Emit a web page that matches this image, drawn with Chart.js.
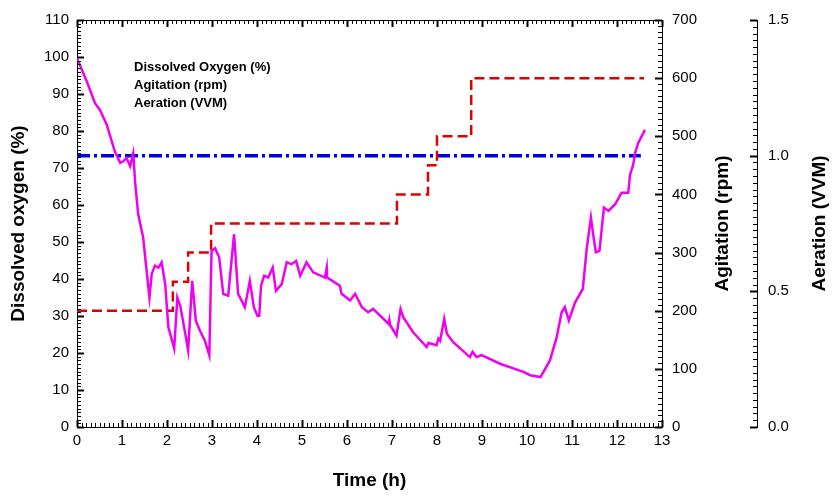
<!DOCTYPE html>
<html>
<head>
<meta charset="utf-8">
<script src="https://cdn.jsdelivr.net/npm/chart.js@4"></script>
<style>
  body { margin: 0; background: #fff; }
  #wrap { width: 833px; height: 503px; }
</style>
</head>
<body>
<div id="wrap"><canvas id="doChart"></canvas></div>
<script>
// Dissolved oxygen trace (time in h, DO in %)
const doTime = [0.00, 0.22, 0.40, 0.51, 0.66, 0.84, 0.96, 1.03, 1.10, 1.18, 1.25, 1.29, 1.36, 1.47, 1.61, 1.66, 1.73, 1.81, 1.88, 1.96,
  2.03, 2.16, 2.23, 2.30, 2.38, 2.47, 2.56, 2.64, 2.73, 2.84, 2.94, 2.99, 3.07, 3.16, 3.25, 3.36, 3.49, 3.58, 3.73, 3.84,
  3.93, 4.01, 4.05, 4.09, 4.16, 4.25, 4.35, 4.42, 4.55, 4.66, 4.77, 4.87, 4.96, 5.10, 5.25, 5.51, 5.55, 5.56, 5.84, 5.88,
  6.07, 6.18, 6.33, 6.47, 6.58, 6.92, 6.94, 6.96, 7.10, 7.19, 7.25, 7.47, 7.77, 7.81, 7.99, 8.03, 8.07, 8.16, 8.22, 8.36,
  8.73, 8.79, 8.88, 8.99, 9.40, 9.92, 10.07, 10.30, 10.51, 10.66, 10.77, 10.84, 10.93, 11.07, 11.24, 11.33, 11.42, 11.47, 11.53, 11.61,
  11.71, 11.81, 11.96, 12.10, 12.25, 12.29, 12.36, 12.40, 12.47, 12.62];
const dissolvedOxygen = [99.7, 93.3, 87.5, 85.7, 81.7, 74.5, 71.4, 71.8, 72.7, 70.5, 74.0, 66.4, 57.5, 51.2, 35.0, 41.3, 43.6, 43.1, 44.5, 38.6,
  27.0, 21.2, 35.0, 32.4, 27.0, 20.7, 39.5, 28.8, 26.1, 23.4, 19.4, 47.6, 48.3, 45.8, 36.0, 35.5, 52.1, 36.0, 32.4, 39.5,
  32.4, 30.1, 30.1, 38.2, 40.9, 40.4, 43.1, 36.8, 38.6, 44.5, 44.0, 44.9, 40.9, 44.5, 41.8, 40.4, 43.1, 40.4, 38.2, 36.0,
  34.2, 36.0, 32.4, 31.0, 31.9, 27.9, 29.0, 27.5, 24.7, 31.9, 29.7, 25.6, 21.6, 22.7, 22.1, 23.9, 23.3, 29.2, 25.2, 22.9,
  18.9, 20.3, 18.9, 19.4, 17.1, 14.9, 14.0, 13.5, 18.0, 24.3, 31.0, 32.4, 28.8, 33.7, 37.3, 48.5, 56.6, 52.1, 47.2, 47.6,
  59.3, 58.4, 60.2, 63.3, 63.3, 68.2, 70.9, 74.0, 76.7, 80.3];

// Agitation set points (rpm), each value starts at the given time
const agitationTime = [0, 2.13, 2.47, 2.98, 7.11, 7.80, 8.00, 8.76, 12.60];
const agitationRpm = [200, 250, 300, 350, 400, 450, 500, 600, 600];

// Aeration (VVM)
const aerationTime = [0, 12.53];
const aerationVvm = [1.0, 1.0];

const toPoints = (xs, ys) => xs.map((x, i) => ({ x: x, y: ys[i] }));

const FONT = "'Liberation Sans', Arial, sans-serif";

// inner tick marks: [major step, minor subdivisions]
const tickSpec = { x: [1, 10], y: [10, 10], y1: [100, 10], y2: [0.5, 20] };

const innerTicks = {
  id: 'innerTicks',
  afterDraw(chart) {
    const { ctx, chartArea: a, scales } = chart;
    ctx.save();
    ctx.strokeStyle = '#000';
    const seg = (x1, y1, x2, y2, w) => {
      ctx.lineWidth = w;
      ctx.beginPath(); ctx.moveTo(x1, y1); ctx.lineTo(x2, y2); ctx.stroke();
    };
    // top frame line
    seg(a.left, a.top + 0.5, a.right, a.top + 0.5, 1);
    Object.keys(tickSpec).forEach(id => {
      const s = scales[id];
      const [major, sub] = tickSpec[id];
      const n = Math.round((s.max - s.min) / major * sub);
      for (let i = 0; i <= n; i++) {
        const v = s.min + i * major / sub;
        const isMajor = i % sub === 0;
        const len = isMajor ? 7 : 4;
        const w = isMajor ? 2 : 1;
        const p = Math.round(s.getPixelForValue(v)) + 0.5;
        if (id === 'x') {
          seg(p, a.bottom, p, a.bottom - len, w);
          seg(p, a.top, p, a.top + len, w);
        } else if (id === 'y') {
          seg(a.left, p, a.left + len, p, w);
        } else {
          seg(s.left, p, s.left - len, p, w);
        }
      }
    });
    ctx.restore();
  }
};

// legend text inside the plot, and right-hand titles reading upward
const textBits = {
  id: 'textBits',
  afterDraw(chart) {
    const { ctx, chartArea: a, scales } = chart;
    ctx.save();
    ctx.fillStyle = '#000';
    ctx.font = 'bold 13px ' + FONT;
    ctx.textAlign = 'left';
    ctx.textBaseline = 'middle';
    chart.data.datasets.forEach((ds, i) => {
      ctx.fillText(ds.label, a.left + 57, a.top + 47 + i * 18);
    });
    ctx.font = 'bold 19px ' + FONT;
    ctx.textAlign = 'center';
    [['y1', 61], ['y2', 63]].forEach(([id, off]) => {
      const s = scales[id];
      ctx.save();
      ctx.translate(s.left + off, (s.top + s.bottom) / 2);
      ctx.rotate(-Math.PI / 2);
      ctx.fillText(s.options.title.text, 0, 0);
      ctx.restore();
    });
    ctx.restore();
  }
};

const tickFont = { family: FONT, size: 15 };
const titleFont = { family: FONT, size: 19, weight: 'bold' };
const noGrid = { display: false, drawTicks: false };
const border = { display: true, color: '#000', width: 1 };

new Chart(document.getElementById('doChart'), {
  type: 'line',
  data: {
    datasets: [{
      label: 'Dissolved Oxygen (%)',
      data: toPoints(doTime, dissolvedOxygen),
      borderColor: '#f000f0',
      borderWidth: 2.5,
      yAxisID: 'y'
    }, {
      label: 'Agitation (rpm)',
      data: toPoints(agitationTime, agitationRpm),
      borderColor: '#e00000',
      borderWidth: 2.5,
      borderDash: [10, 5],
      stepped: true,
      yAxisID: 'y1'
    }, {
      label: 'Aeration (VVM)',
      data: toPoints(aerationTime, aerationVvm),
      borderColor: '#0000e0',
      borderWidth: 3.5,
      borderDash: [13, 4, 3, 4],
      yAxisID: 'y2'
    }]
  },
  options: {
    responsive: true,
    maintainAspectRatio: false,
    animation: false,
    layout: { padding: { top: 18, left: 0, right: 0, bottom: 0 } },
    elements: { point: { radius: 0 }, line: { tension: 0 } },
    plugins: { legend: { display: false }, tooltip: { enabled: false } },
    scales: {
      x: {
        type: 'linear', min: 0, max: 13,
        grid: noGrid, border: border,
        ticks: { stepSize: 1, padding: 5, color: '#000', font: tickFont, maxRotation: 0, autoSkip: false },
        title: { display: true, text: 'Time (h)', color: '#000', font: titleFont, padding: { top: 0, bottom: 11 } },
        afterFit: s => { s.height = 76; }
      },
      y: {
        type: 'linear', position: 'left', min: 0, max: 110,
        grid: noGrid, border: border,
        ticks: { stepSize: 10, padding: 8, color: '#000', font: tickFont },
        title: { display: true, text: 'Dissolved oxygen (%)', color: '#000', font: titleFont, padding: { top: 7, bottom: 0 } },
        afterFit: s => { s.width = 77; }
      },
      y1: {
        type: 'linear', position: 'right', min: 0, max: 700,
        grid: noGrid, border: border,
        ticks: { stepSize: 100, padding: 10, color: '#000', font: tickFont },
        title: { display: false, text: 'Agitation (rpm)' },
        afterFit: s => { s.width = 95; }
      },
      y2: {
        type: 'linear', position: 'right', min: 0, max: 1.5,
        grid: noGrid, border: border,
        ticks: { stepSize: 0.5, padding: 11, color: '#000', font: tickFont, callback: v => v.toFixed(1) },
        title: { display: false, text: 'Aeration (VVM)' },
        afterFit: s => { s.width = 76; }
      }
    }
  },
  plugins: [innerTicks, textBits]
});
</script>
</body>
</html>
